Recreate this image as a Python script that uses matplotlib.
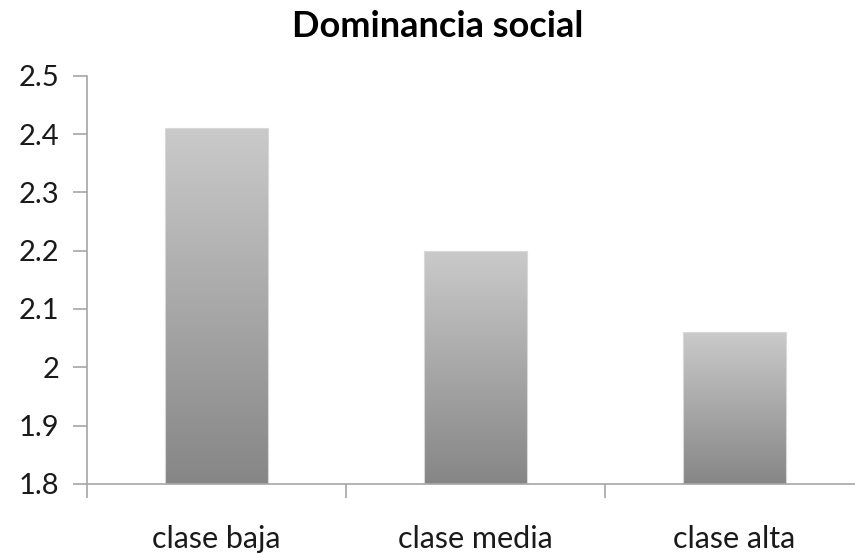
import numpy as np
import matplotlib
matplotlib.use("Agg")
import matplotlib.pyplot as plt

# data
categories = ["clase baja", "clase media", "clase alta"]
values = [2.41, 2.20, 2.06]
yticks = [1.8, 1.9, 2.0, 2.1, 2.2, 2.3, 2.4, 2.5]
ytick_labels = ["1.8", "1.9", "2", "2.1", "2.2", "2.3", "2.4", "2.5"]

plt.rcParams['font.family'] = ['Lato', 'DejaVu Sans']

fig = plt.figure(figsize=(8.55, 5.54), dpi=100)
ax = fig.add_axes([0.1018, 0.1264, 0.8982, 0.737])

x = np.arange(len(categories))
bars = ax.bar(x, [v - 1.8 for v in values], bottom=1.8, width=0.4,
              color='none', edgecolor='#d8d8d8', linewidth=0.8, zorder=2)

# vertical gradient for each bar, light on top, darker at bottom
grad = np.linspace(0, 1, 256).reshape(-1, 1)
cmap = matplotlib.colors.LinearSegmentedColormap.from_list('g', ['#868686', '#cacaca'])
for b in bars:
    x0, y0 = b.get_x(), b.get_y()
    w, h = b.get_width(), b.get_height()
    im = ax.imshow(grad, cmap=cmap, aspect='auto', origin='lower',
                   extent=[x0, x0 + w, y0, y0 + h], zorder=1)
    im.set_clip_path(b)

ax.set_xlim(-0.5, -0.5 + (855 - 87) / 259)
ax.set_ylim(1.8, 2.5)
ax.set_yticks(yticks)
ax.set_yticklabels(ytick_labels, fontsize=21, color='#1a1a1a')

# category labels sit between boundary ticks
ax.set_xticks(x)
ax.set_xticklabels(categories, fontsize=22, color='#1a1a1a')
ax.tick_params(axis='x', length=0, pad=29.5)
ax.set_xticks(np.arange(len(categories)) - 0.5, minor=True)
ax.tick_params(axis='x', which='minor', length=10, color='#a6a6a6', width=1.2)
ax.tick_params(axis='y', length=10, color='#a6a6a6', width=1.2, pad=10)

for s in ['top', 'right']:
    ax.spines[s].set_visible(False)
for s in ['left', 'bottom']:
    ax.spines[s].set_color('#a6a6a6')
    ax.spines[s].set_linewidth(1.2)

fig.text(437.5 / 855, 1 - 37 / 554, "Dominancia social", ha='center', va='baseline',
         fontsize=26, fontweight='bold', color='#000000')

fig.savefig("out.png", dpi=100)
